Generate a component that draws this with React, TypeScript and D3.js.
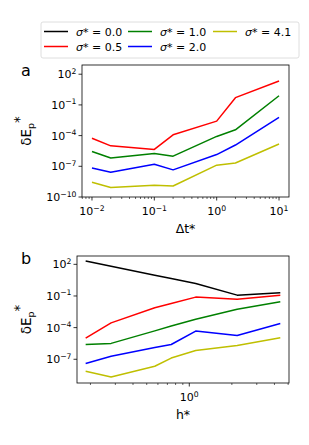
import React from "react";
import { scaleLog, line } from "d3";

// panel a: error vs time step
const dtValues = [0.01, 0.02, 0.1, 0.2, 1, 2, 10];
const aRed = [5.6e-5, 1.0e-5, 4.5e-6, 1.2e-4, 2.6e-3, 0.51, 22];
const aGreen = [2.8e-6, 6.6e-7, 1.8e-6, 9.8e-7, 8.3e-5, 3.7e-4, 0.79];
const aBlue = [6.9e-8, 2.6e-8, 1.6e-7, 4.5e-8, 1.4e-6, 1.2e-5, 6.0e-3];
const aYellow = [2.8e-9, 8.3e-10, 1.4e-9, 1.2e-9, 1.3e-7, 2.1e-7, 1.5e-5];

// panel b: error vs grid spacing
const hValues = [0.185, 0.28, 0.57, 0.745, 1.11, 2.18, 4.4];
const bBlack = [204, 66, 9.3, 4.5, 1.5, 0.12, 0.2];
const bRed = [1.0e-5, 2.8e-4, 7.6e-3, 0.019, 0.078, 0.048, 0.12];
const bGreen = [2.5e-6, 3.2e-6, 4.9e-5, 1.4e-4, 6.2e-4, 5.4e-3, 0.028];
const bBlue = [4.0e-8, 1.9e-7, 1.3e-6, 2.5e-6, 4.7e-5, 1.8e-5, 2.5e-4];
const bYellow = [7.4e-9, 2.1e-9, 2.2e-8, 1.3e-7, 6.8e-7, 2.0e-6, 1.1e-5];

const sigmaLabels = ["0.0", "0.5", "1.0", "2.0", "4.1"];
const sigmaColors = ["#000000", "#ff0000", "#008000", "#0000ff", "#bfbf00"];

const aXTicks = [0.01, 0.1, 1, 10];
const aYTicks = [1e-10, 1e-7, 1e-4, 1e-1, 1e2];
const bXTicks = [1];
const bYTicks = [1e-7, 1e-4, 1e-1, 1e2];

const FONT = "DejaVu Sans, sans-serif";

const Pow = ({ v }: { v: number }) => {
  const e = Math.round(Math.log10(v));
  return (
    <>
      10<tspan fontSize={7.7} dy={-4.5}>{e < 0 ? "\u2212" + -e : e}</tspan>
    </>
  );
};

const minorTicks = (domain: number[]) => {
  const out: number[] = [];
  const lo = Math.floor(Math.log10(domain[0]));
  const hi = Math.ceil(Math.log10(domain[1]));
  for (let d = lo; d <= hi; d++) {
    for (let m = 2; m <= 9; m++) {
      const v = m * Math.pow(10, d);
      if (v >= domain[0] && v <= domain[1]) out.push(v);
    }
  }
  return out;
};

const Panel = ({ box, xDomain, yDomain, xTicks, yTicks, series, colors, letter, letterY, xLabel }) => {
  const [x0, y0, x1, y1] = box;
  const x = scaleLog().domain(xDomain).range([x0, x1]);
  const y = scaleLog().domain(yDomain).range([y1, y0]);
  return (
    <g fontFamily={FONT}>
      {series.map((s, i) => {
        const path = line<number>()
          .x((d, j) => x(s.xs[j]))
          .y((d) => y(d))(s.ys);
        return <path key={i} d={path} fill="none" stroke={colors[i]} strokeWidth={1.5} strokeLinejoin="round" />;
      })}
      <rect x={x0} y={y0} width={x1 - x0} height={y1 - y0} fill="none" stroke="#000" strokeWidth={0.8} />
      {minorTicks(xDomain).map((t) => (
        <line key={"m" + t} x1={x(t)} x2={x(t)} y1={y1} y2={y1 + 2} stroke="#000" strokeWidth={0.6} />
      ))}
      {xTicks.map((t) => (
        <g key={"x" + t}>
          <line x1={x(t)} x2={x(t)} y1={y1} y2={y1 + 3.5} stroke="#000" strokeWidth={0.8} />
          <text x={x(t)} y={y1 + 18} fontSize={11} textAnchor="middle">
            <Pow v={t} />
          </text>
        </g>
      ))}
      {yTicks.map((t) => (
        <g key={"y" + t}>
          <line x1={x0 - 3.5} x2={x0} y1={y(t)} y2={y(t)} stroke="#000" strokeWidth={0.8} />
          <text x={x0 - 5.5} y={y(t) + 4} fontSize={11} textAnchor="end">
            <Pow v={t} />
          </text>
        </g>
      ))}
      <text x={(x0 + x1) / 2} y={y1 + 36} fontSize={12.5} textAnchor="middle">
        {xLabel}
      </text>
      <text transform={`translate(31,${(y0 + y1) / 2}) rotate(-90)`} fontSize={13.5} textAnchor="middle">
        δE<tspan fontSize={9.5} dy={3}>p</tspan>
        <tspan fontSize={13.5} dy={-10}>*</tspan>
      </text>
      <text x={21} y={letterY} fontSize={16}>
        {letter}
      </text>
    </g>
  );
};

const Legend = () => {
  const cols = [44, 128, 213];
  const rows = [31.5, 46.5];
  return (
    <g fontFamily={FONT}>
      <rect x={41} y={22} width={258} height={36} rx={2} fill="#fff" stroke="#d5d5d5" strokeWidth={0.8} />
      {sigmaLabels.map((lab, i) => {
        const cx = cols[Math.floor(i / 2)];
        const cy = rows[i % 2];
        return (
          <g key={lab}>
            <line x1={cx} x2={cx + 24} y1={cy} y2={cy} stroke={sigmaColors[i]} strokeWidth={1.5} />
            <text x={cx + 32} y={cy + 4} fontSize={11}>
              <tspan fontStyle="italic">σ</tspan>
              {"* = " + lab}
            </text>
          </g>
        );
      })}
    </g>
  );
};

export default function App() {
  const seriesA = [aRed, aGreen, aBlue, aYellow].map((ys) => ({ xs: dtValues, ys }));
  const seriesB = [bBlack, bRed, bGreen, bBlue, bYellow].map((ys) => ({ xs: hValues, ys }));
  return (
    <svg width={309} height={445} style={{ position: "absolute", left: 0, top: 0, background: "#fff" }}>
      <Legend />
      <Panel
        box={[82, 65, 289, 197]}
        xDomain={[Math.pow(10, -2.16), Math.pow(10, 1.16)]}
        yDomain={[1e-10, Math.pow(10, 2.9)]}
        xTicks={aXTicks}
        yTicks={aYTicks}
        series={seriesA}
        colors={sigmaColors.slice(1)}
        letter="a"
        letterY={76}
        xLabel="Δt*"
      />
      <Panel
        box={[77, 256, 289, 383]}
        xDomain={[Math.pow(10, -0.794), Math.pow(10, 0.705)]}
        yDomain={[Math.pow(10, -9.25), Math.pow(10, 2.79)]}
        xTicks={bXTicks}
        yTicks={bYTicks}
        series={seriesB}
        colors={sigmaColors}
        letter="b"
        letterY={264}
        xLabel="h*"
      />
    </svg>
  );
}
